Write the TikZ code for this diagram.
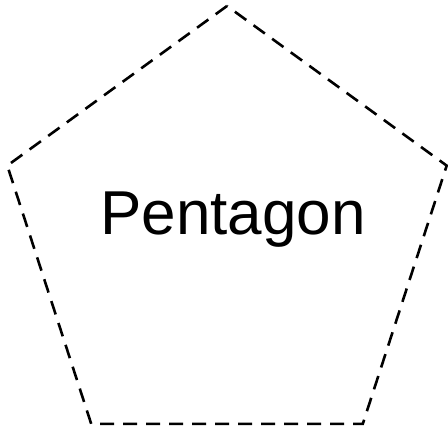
\documentclass[tikz,border=0pt]{standalone}
\usepackage{fontspec}
\setmainfont{Liberation Sans}
\usetikzlibrary{shapes.geometric}

\begin{document}
\begin{tikzpicture}[x=1pt,y=1pt]

\useasboundingbox (0,0) rectangle (448,-428);

\node[regular polygon, regular polygon sides=5, draw, line width=2.6pt,
  dash pattern=on 14pt off 9pt, minimum size=462pt, inner sep=0pt, outer sep=0pt] (pent) at (227,-237) {};

\node[inner sep=0pt, anchor=base] (name) at (233,-234) {\fontsize{62}{70}\selectfont Pentagon};

\end{tikzpicture}
\end{document}
